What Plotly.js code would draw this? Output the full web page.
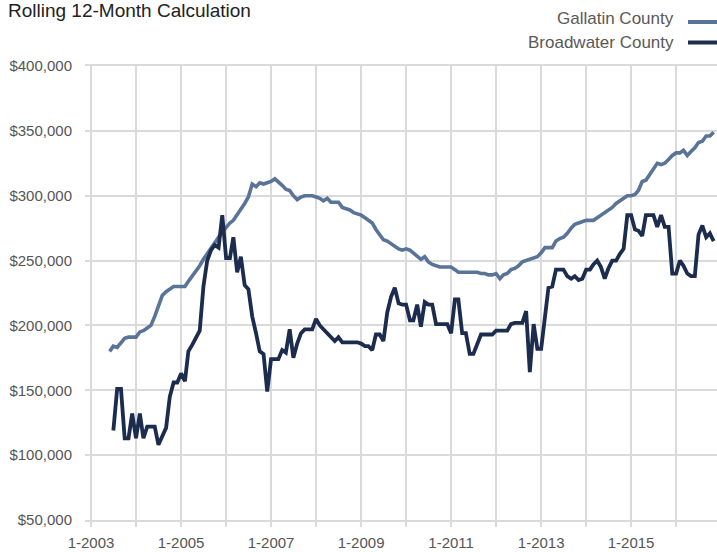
<!DOCTYPE html>
<html>
<head>
<meta charset="utf-8">
<script src="https://cdn.plot.ly/plotly-3.0.1.min.js"></script>
<style>
  html, body { margin: 0; padding: 0; background: #fff; }
  #chart { width: 717px; height: 552px; }
</style>
</head>
<body>
<div id="chart"></div>
<script>
// ---- Data (monthly rolling 12-month values) ----
const seriesNames = ["Gallatin County", "Broadwater County"];

// Gallatin County: June 2003 .. Nov 2016
const gallatinStart = "2003-06";
const gallatinValues = [
  180,184,183,187,190,191,191,191,195,196,198,200,207,215,223,226,228,230,230,230,
  230,234,238,242,246,251,255,259,263,268,272,276,279,281,285,290,294,299,309,307,
  310,309,310,311,313,311,308,305,304,300,297,299,300,300,300,299,298,296,298,295,
  295,295,291,290,289,287,286,285,283,281,279,274,270,266,265,263,261,259,258,259,
  258,256,254,251,253,249,247,246,245,245,245,245,243,241,241,241,241,241,241,240,
  240,239,239,240,236,239,240,243,244,246,249,250,251,252,253,256,260,260,260,265,
  267,268,271,275,278,279,280,281,281,281,283,285,287,289,291,294,296,298,300,300,
  301,304,311,312,316,320,325,324,325,328,331,333,333,335,331,334,337,341,342,346,
  346,349
].map(v => v * 1000);

// Broadwater County: July 2003 .. Nov 2016
const broadwaterStart = "2003-07";
const broadwaterValues = [
  119,151,151,113,113,132,113,132,113,122,122,122,108,114,121,145,156,156,163,157,
  180,185,190,196,230,250,258,262,260,285,252,252,268,241,253,231,228,207,194,180,
  178,149,174,174,174,181,179,197,175,186,194,197,197,197,205,200,197,194,191,188,
  191,187,187,187,187,187,186,184,184,181,193,193,188,210,222,229,217,216,216,204,
  204,216,199,218,216,216,201,201,201,201,194,220,220,194,194,178,178,185,193,193,
  193,193,196,196,196,196,201,202,202,202,211,164,201,182,182,205,229,230,243,243,
  243,238,236,238,235,236,243,243,247,250,245,236,244,250,250,255,259,285,285,274,
  273,269,285,285,285,276,285,276,276,240,240,250,246,240,238,238,270,277,268,271,
  265
].map(v => v * 1000);

const xTickYears = [2003,2004,2005,2006,2007,2008,2009,2010,2011,2012,2013,2014,2015,2016];
const xTickLabels = ["1-2003","","1-2005","","1-2007","","1-2009","","1-2011","","1-2013","","1-2015",""];
const yTickValues = [50000,100000,150000,200000,250000,300000,350000,400000];
const yTickLabels = ["$50,000","$100,000","$150,000","$200,000","$250,000","$300,000","$350,000","$400,000"];

const colors = ["#5a7398", "#1b2c4e"];

// ---- Helpers ----
function monthSeries(start, n) {
  let [y, m] = start.split("-").map(Number);
  const out = [];
  for (let i = 0; i < n; i++) {
    out.push(y + "-" + String(m).padStart(2, "0") + "-01");
    m++; if (m > 12) { m = 1; y++; }
  }
  return out;
}

const FONT = "'Liberation Sans', Arial, sans-serif";
const GRID = "#dadada";

const traces = [
  {
    type: "scatter", mode: "lines", name: seriesNames[0],
    x: monthSeries(gallatinStart, gallatinValues.length), y: gallatinValues,
    line: { color: colors[0], width: 3.6 }, showlegend: false
  },
  {
    type: "scatter", mode: "lines", name: seriesNames[1],
    x: monthSeries(broadwaterStart, broadwaterValues.length), y: broadwaterValues,
    line: { color: colors[1], width: 3.8 }, showlegend: false
  }
];

const layout = {
  width: 717, height: 552,
  paper_bgcolor: "#ffffff", plot_bgcolor: "#ffffff",
  margin: { l: 85, r: 0, t: 66, b: 32 },
  font: { family: FONT, color: "#555555", size: 15 },
  title: {
    text: "Rolling 12-Month Calculation",
    font: { family: FONT, size: 19, color: "#222222" },
    xref: "container", x: 8 / 717, xanchor: "left",
    yref: "container", y: 1 - 4 / 552, yanchor: "top",
    pad: { t: 0, l: 0 }
  },
  xaxis: {
    type: "date",
    range: ["2002-11-13", "2016-11-28"],
    tickvals: xTickYears.map(y => y + "-01-01"),
    ticktext: xTickLabels,
    showgrid: true, gridcolor: GRID, gridwidth: 2,
    ticks: "outside", ticklen: 5, tickwidth: 2, tickcolor: GRID,
    ticklabelstandoff: 3,
    zeroline: false,
    showline: true, mirror: true, linecolor: GRID, linewidth: 2,
    tickfont: { family: FONT, size: 15, color: "#555555" }
  },
  yaxis: {
    range: [50000, 400000],
    tickvals: yTickValues,
    ticktext: yTickLabels,
    showgrid: true, gridcolor: GRID, gridwidth: 2,
    ticks: "", ticklabelstandoff: 12,
    zeroline: false, showline: false,
    tickfont: { family: FONT, size: 15, color: "#555555" }
  },
  annotations: [
    { xref: "paper", yref: "paper", x: 1 - (41 / 632), y: 1 + (47 / 454), xanchor: "right", yanchor: "middle",
      text: seriesNames[0], showarrow: false, font: { family: FONT, size: 17, color: "#595959" } },
    { xref: "paper", yref: "paper", x: 1 - (41 / 632), y: 1 + (23.5 / 454), xanchor: "right", yanchor: "middle",
      text: seriesNames[1], showarrow: false, font: { family: FONT, size: 17, color: "#595959" } }
  ],
  shapes: [
    { type: "line", xref: "paper", yref: "paper", x0: 1 - 29 / 632, x1: 1, y0: 1 + 44 / 454, y1: 1 + 44 / 454,
      line: { color: colors[0], width: 4 } },
    { type: "line", xref: "paper", yref: "paper", x0: 1 - 29 / 632, x1: 1, y0: 1 + 23.5 / 454, y1: 1 + 23.5 / 454,
      line: { color: colors[1], width: 4 } }
  ]
};

Plotly.newPlot("chart", traces, layout, { displayModeBar: false, staticPlot: true });
</script>
</body>
</html>
